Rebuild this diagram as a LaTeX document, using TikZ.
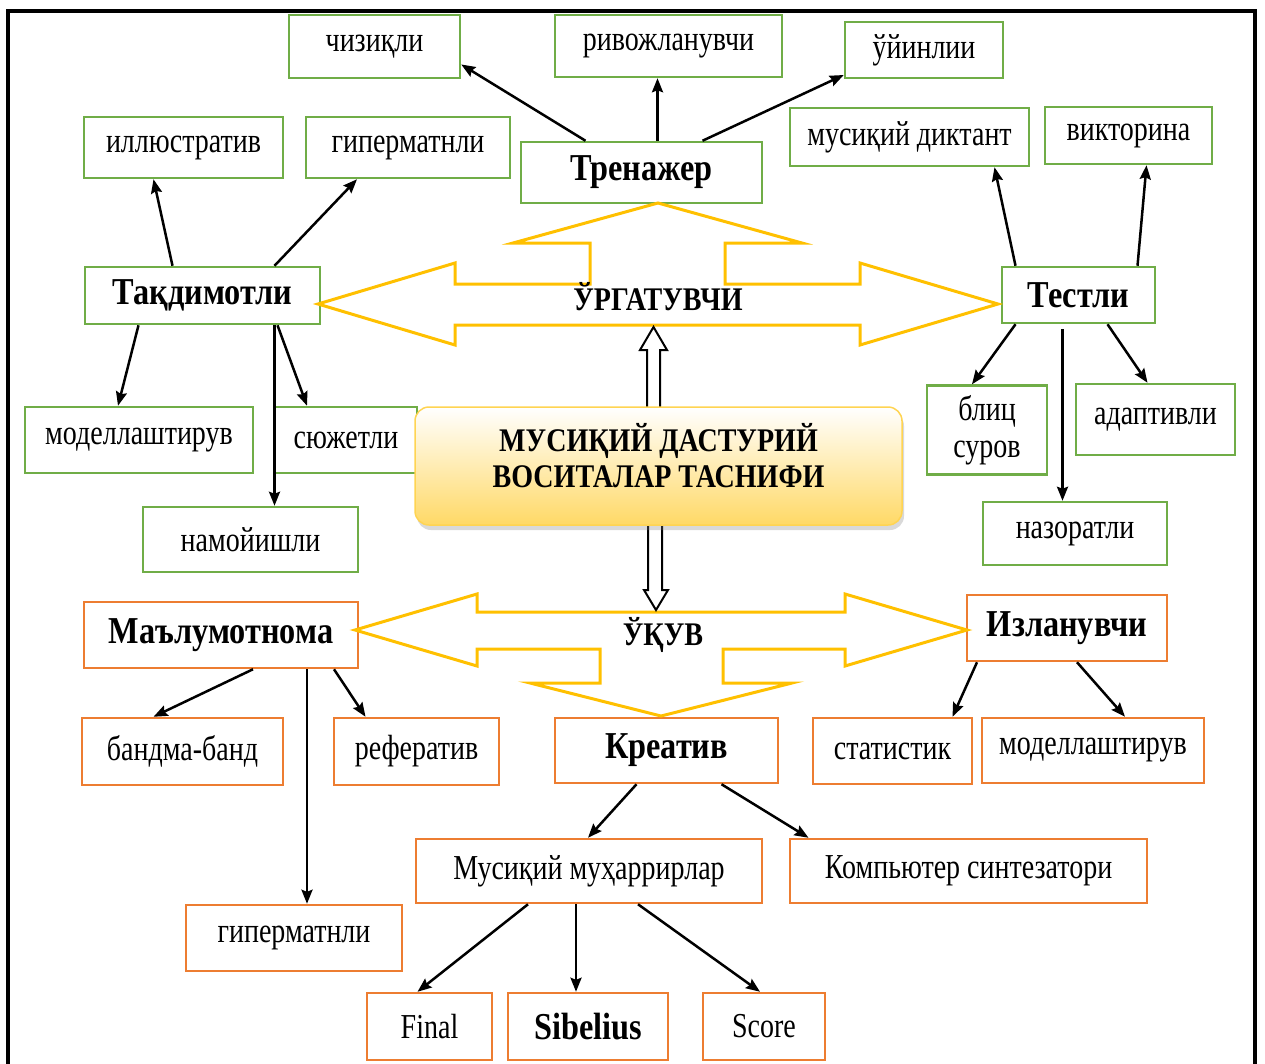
\documentclass[tikz,border=0pt]{standalone}
\usepackage{fontspec}
\setmainfont{Liberation Serif}[FakeStretch=0.8,BoldFeatures={FakeStretch=0.85}]
\usetikzlibrary{arrows.meta,shadows}

\definecolor{boxgreen}{HTML}{70AD47}
\definecolor{boxorange}{HTML}{ED7D31}
\definecolor{arrgold}{HTML}{FFC000}
\definecolor{boxyellow}{HTML}{FFD966}

\begin{document}
\begin{tikzpicture}[x=1pt,y=-1pt,
	gbox/.style={draw=boxgreen,line width=2.5pt,fill=white,inner sep=0pt,font=\fontsize{35}{37}\selectfont},
	obox/.style={gbox,draw=boxorange},
	head/.style={font=\fontsize{38}{40}\selectfont\bfseries},
	sz/.style 2 args={minimum width=#1pt,minimum height=#2pt},
	arr/.style={line width=2.5pt,-{Stealth[length=14pt,width=11pt,inset=2pt]}},
	gold/.style={draw=arrgold,line width=3pt,line join=miter},
	hollow/.style={draw=black,line width=2pt,fill=white,line join=miter}]

	\useasboundingbox (0,0) rectangle (1265,1063);
	\draw[line width=4pt] (8,1080) -- (8,11) -- (1255,11) -- (1255,1080);

	\node[gbox,sz={171}{63}] (chiz) at (374.5,46.5) {чизиқли};
	\node[gbox,sz={227}{62}] (rivoj) at (668.5,46) {ривожланувчи};
	\node[gbox,sz={158}{56}] (uyin) at (924,50) {ўйинлии};
	\node[gbox,sz={199}{61}] (illyus) at (183.5,147.5) {иллюстратив};
	\node[gbox,sz={204}{61}] (giper) at (408,147.5) {гиперматнли};
	\node[gbox,head,sz={241}{61}] (tren) at (641.5,172.5) {Тренажер};
	\node[gbox,sz={239}{58}] (diktant) at (909.5,137) {мусиқий диктант};
	\node[gbox,sz={167}{57}] (viktor) at (1128.5,135.5) {викторина};
	\node[gbox,head,sz={235}{57}] (taqdim) at (202.5,295.5) {Тақдимотли};
	\node[gbox,head,sz={153}{56}] (test) at (1078.5,295) {Тестли};
	\node[gbox,sz={228}{66}] (model) at (139,440) {моделлаштирув};
	\node[gbox,sz={142}{66}] (syuzhet) at (346,440) {сюжетли};
	\node[gbox,sz={215}{65}] (namoy) at (250.5,539.5) {намойишли};
	\node[gbox,sz={120}{89},align=center] (blits) at (987,430) {блиц\\суров};
	\node[gbox,sz={159}{71}] (adapt) at (1155.5,419.5) {адаптивли};
	\node[gbox,sz={184}{63}] (nazor) at (1075,533.5) {назоратли};

	\node[obox,head,sz={274}{66}] (malum) at (221,635) {Маълумотнома};
	\node[obox,sz={201}{67}] (band) at (182.5,751.5) {бандма-банд};
	\node[obox,sz={165}{67}] (refer) at (416.5,751.5) {рефератив};
	\node[obox,sz={216}{66}] (hyper) at (294,938) {гиперматнли};
	\node[obox,head,sz={223}{65}] (kreativ) at (666.5,750.5) {Креатив};
	\node[obox,head,sz={200}{66}] (izlan) at (1067,628) {Изланувчи};
	\node[obox,sz={159}{66}] (stat) at (892.5,751) {статистик};
	\node[obox,sz={222}{65}] (modeltwo) at (1093,750.5) {моделлаштирув};
	\node[obox,sz={346}{64}] (muharr) at (589,871) {Мусиқий муҳаррирлар};
	\node[obox,sz={357}{64}] (komp) at (968.5,871) {Компьютер синтезатори};
	\node[obox,sz={125}{67}] (final) at (429.5,1026.5) {Final};
	\node[obox,head,sz={160}{67}] (sibel) at (588,1026.5) {Sibelius};
	\node[obox,sz={122}{67}] (score) at (764,1026.5) {Score};

	\draw[gold] (318,304) -- (455,263) -- (455,284) -- (590,284) -- (590,243) -- (513,243)
		-- (658,203) -- (802,243) -- (725,243) -- (725,284) -- (860,284) -- (860,263)
		-- (998,304) -- (860,345) -- (860,325) -- (455,325) -- (455,345) -- cycle;
	\draw[gold] (355,630) -- (477,594) -- (477,612) -- (845,612) -- (845,594) -- (967,630)
		-- (845,666) -- (845,649) -- (723,649) -- (723,683) -- (792,683) -- (661,716)
		-- (530,683) -- (600,683) -- (600,649) -- (477,649) -- (477,666) -- cycle;
	\node[font=\fontsize{33}{35}\selectfont\bfseries] (urgat) at (658,297) {ЎРГАТУВЧИ};
	\node[font=\fontsize{33}{35}\selectfont\bfseries] (ukuv) at (663,635) {ЎҚУВ};

	\draw[hollow] (647,407) -- (647,350) -- (640,350) -- (653.5,327) -- (667,350) -- (660,350) -- (660,407);
	\draw[hollow] (648,520) -- (648,590) -- (644,590) -- (656,610) -- (668,590) -- (662,590) -- (662,520);

	\node[draw=boxyellow!80!arrgold,line width=1.5pt,rounded corners=14pt,top color=white,bottom color=boxyellow,
		drop shadow={opacity=0.3,shadow xshift=2pt,shadow yshift=-5pt},sz={487}{118}] (main) at (658.5,466) {};
	\node[align=center,font=\fontsize{33}{36}\selectfont\bfseries] (maintxt) at (658.5,456)
		{МУСИҚИЙ ДАСТУРИЙ\\ВОСИТАЛАР ТАСНИФИ};

	\draw[arr] ([xshift=-56pt]tren.north) -- ([yshift=-18pt]chiz.east);
	\draw[arr] ([xshift=16pt]tren.north) -- ([xshift=16pt]tren.north |- rivoj.south);
	\draw[arr] ([xshift=61pt]tren.north) -- ([yshift=-25pt]uyin.west);
	\draw[arr] ([xshift=-30pt]taqdim.north) -- ([xshift=-30pt]illyus.south);
	\draw[arr] ([xshift=72pt]taqdim.north) -- ([xshift=-51pt]giper.south);
	\draw[arr] ([xshift=-64pt]taqdim.south) -- ([xshift=-21pt]model.north);
	\draw[arr] ([xshift=72pt]taqdim.south) -- ([xshift=72pt]taqdim.south |- namoy.north);
	\draw[arr] ([xshift=75pt]taqdim.south) -- ([xshift=-39pt]syuzhet.north);
	\draw[arr] ([xshift=-63pt]test.north) -- ([xshift=85pt]diktant.south);
	\draw[arr] ([xshift=59pt]test.north) -- ([xshift=18pt]viktor.south);
	\draw[arr] ([xshift=-63pt]test.south) -- ([xshift=-15pt]blits.north);
	\draw[arr] ([xshift=-16pt,yshift=-5pt]test.south) -- ([xshift=-16pt]test.south |- nazor.north);
	\draw[arr] ([xshift=29pt]test.south) -- ([xshift=-8pt]adapt.north);

	\draw[arr] ([xshift=32pt]malum.south) -- ([xshift=-29pt]band.north);
	\draw[arr] ([xshift=86pt]malum.south) -- ([xshift=86pt]malum.south |- hyper.north);
	\draw[arr] ([xshift=113pt]malum.south) -- ([xshift=-51pt]refer.north);
	\draw[arr] ([xshift=-90pt]izlan.south) -- ([xshift=60pt]stat.north);
	\draw[arr] ([xshift=10pt]izlan.south) -- ([xshift=32pt]modeltwo.north);
	\draw[arr] ([xshift=-30pt]kreativ.south) -- ([xshift=-1pt]muharr.north);
	\draw[arr] ([xshift=55pt]kreativ.south) -- ([xshift=-160pt]komp.north);
	\draw[arr] ([xshift=-61pt]muharr.south) -- ([xshift=-12pt]final.north);
	\draw[arr] ([xshift=-13pt]muharr.south) -- ([xshift=-13pt]muharr.south |- sibel.north);
	\draw[arr] ([xshift=49pt]muharr.south) -- ([xshift=-4pt]score.north);

\end{tikzpicture}
\end{document}
